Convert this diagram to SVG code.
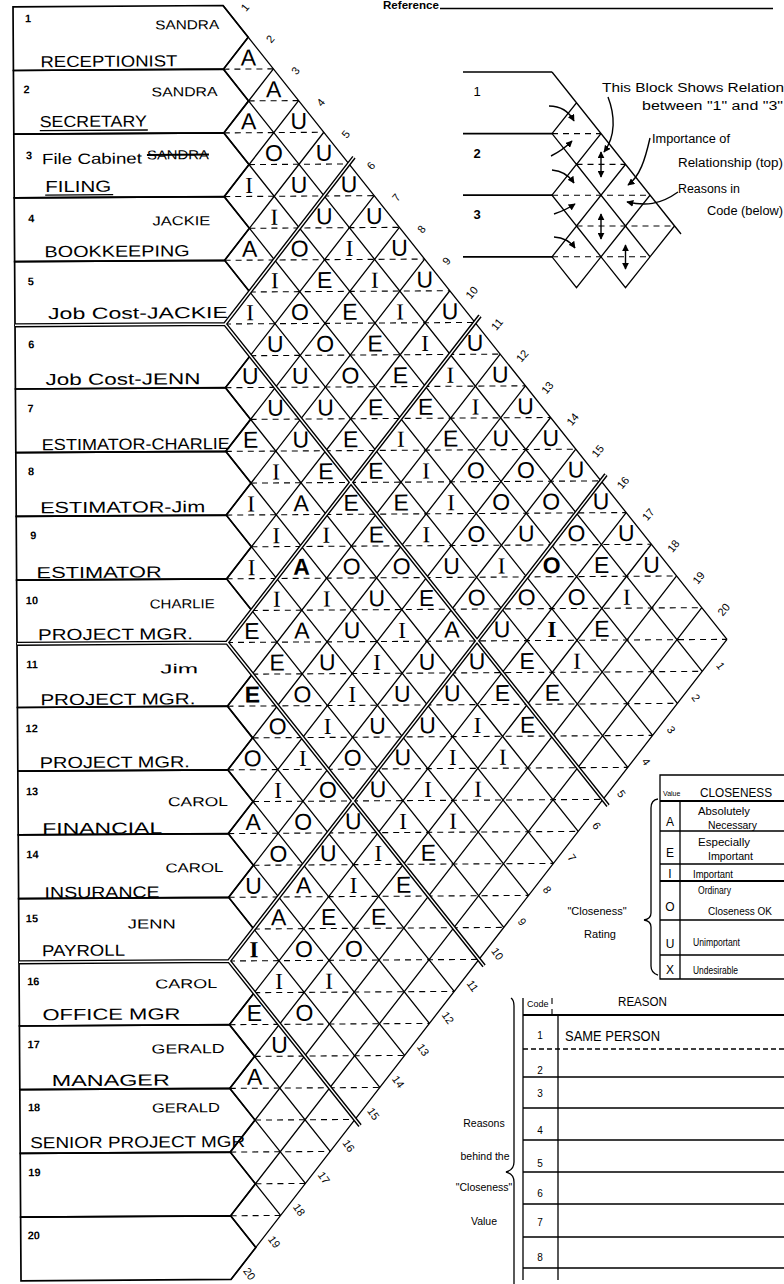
<svg xmlns="http://www.w3.org/2000/svg" width="784" height="1284" viewBox="0 0 784 1284">
<style>
.ln{fill:none;stroke:#000;stroke-width:1.3}
.row{fill:none;stroke:#000;stroke-width:1.7}
.dash{fill:none;stroke:#000;stroke-width:1.1;stroke-dasharray:6 5}
.dbl{fill:none;stroke:#000;stroke-width:4.2}
.dblw{fill:none;stroke:#fff;stroke-width:1.4}
.hw{font-family:"Liberation Sans",Arial,sans-serif;fill:#000}
.nm{font-size:13px}
.tt{font-size:16px}
.num{font-size:11px;font-weight:bold}
.cell{font-family:"Liberation Sans",Arial,sans-serif;font-size:23px;text-anchor:middle;fill:#000}
.ci{font-family:"Liberation Serif",serif}
.el{font-family:"Liberation Sans",Arial,sans-serif;font-size:11px;text-anchor:middle;fill:#000}
.ty{font-family:"Liberation Sans",Arial,sans-serif;fill:#000}
.arr{fill:none;stroke:#000;stroke-width:1.4;marker-end:url(#ah)}
.dar{fill:none;stroke:#000;stroke-width:1.4;marker-start:url(#ah);marker-end:url(#ah)}
</style>
<defs>
<marker id="ah" viewBox="0 0 10 10" refX="9" refY="5" markerWidth="5" markerHeight="5" orient="auto-start-reverse"><path d="M0,0L10,5L0,10Z" fill="#000"/></marker>
</defs>
<rect width="784" height="1284" fill="#fff"/>

<g id="reference">
<text class="ty" x="383" y="9" font-size="11" font-weight="bold" textLength="56" lengthAdjust="spacingAndGlyphs">Reference</text>
<path d="M440,8.5H773" stroke="#000" stroke-width="1.5"/>
</g>

<g id="chart" transform="rotate(-0.36 223 4)">
<g id="row-1"><path class="row" d="M13,5.5H223L248,37.35L223,69.2H13Z"/>
<text class="hw num" x="25" y="21">1</text>
<text class="hw nm" x="155" y="29" textLength="64" lengthAdjust="spacingAndGlyphs">SANDRA</text>
<text class="hw tt" x="40" y="66" textLength="137" lengthAdjust="spacingAndGlyphs">RECEPTIONIST</text></g>
<g id="row-2"><path class="row" d="M13,69.2H223L248,101.05L223,132.9H13Z"/>
<text class="hw num" x="23" y="92">2</text>
<text class="hw nm" x="151" y="96" textLength="66" lengthAdjust="spacingAndGlyphs">SANDRA</text>
<text class="hw tt" x="39" y="126" textLength="107" lengthAdjust="spacingAndGlyphs">SECRETARY</text>
<path d="M39,129.5H147" stroke="#000" stroke-width="1.3"/></g>
<g id="row-3"><path class="row" d="M13,132.9H223L248,164.75L223,196.6H13Z"/>
<text class="hw num" x="25" y="158">3</text>
<text class="hw" x="41" y="163" font-size="15" textLength="100" lengthAdjust="spacingAndGlyphs">File Cabinet</text>
<text class="hw nm" x="146" y="159" textLength="62" lengthAdjust="spacingAndGlyphs">SANDRA</text>
<path d="M146,154.5H208" stroke="#000" stroke-width="2"/>
<text class="hw tt" x="44" y="191" textLength="66" lengthAdjust="spacingAndGlyphs">FILING</text>
<path d="M44,194H112" stroke="#000" stroke-width="1.3"/></g>
<g id="row-4"><path class="row" d="M13,196.6H223L248,228.45L223,260.3H13Z"/>
<text class="hw num" x="27" y="221">4</text>
<text class="hw nm" x="151" y="225" textLength="58" lengthAdjust="spacingAndGlyphs">JACKIE</text>
<text class="hw tt" x="43" y="256" textLength="145" lengthAdjust="spacingAndGlyphs">BOOKKEEPING</text></g>
<g id="row-5"><path class="row" d="M13,260.3H223L248,292.15L223,324H13Z"/>
<text class="hw num" x="26" y="284">5</text>
<text class="hw tt" x="46" y="318" textLength="180" lengthAdjust="spacingAndGlyphs">Job Cost-JACKIE</text></g>
<g id="row-6"><path class="row" d="M13,324H223L248,355.85L223,387.7H13Z"/>
<text class="hw num" x="26" y="347">6</text>
<text class="hw tt" x="43" y="384" textLength="155" lengthAdjust="spacingAndGlyphs">Job Cost-JENN</text></g>
<g id="row-7"><path class="row" d="M13,387.7H223L248,419.55L223,451.4H13Z"/>
<text class="hw num" x="25" y="411">7</text>
<text class="hw tt" x="39" y="449" textLength="188" lengthAdjust="spacingAndGlyphs">ESTIMATOR-CHARLIE</text></g>
<g id="row-8"><path class="row" d="M13,451.4H223L248,483.25L223,515.1H13Z"/>
<text class="hw num" x="25" y="474">8</text>
<text class="hw tt" x="37" y="512" textLength="165" lengthAdjust="spacingAndGlyphs">ESTIMATOR-Jim</text></g>
<g id="row-9"><path class="row" d="M13,515.1H223L248,546.95L223,578.8H13Z"/>
<text class="hw num" x="27" y="538">9</text>
<text class="hw tt" x="33" y="577" textLength="125" lengthAdjust="spacingAndGlyphs">ESTIMATOR</text></g>
<g id="row-10"><path class="row" d="M13,578.8H223L248,610.65L223,642.5H13Z"/>
<text class="hw num" x="22" y="603">10</text>
<text class="hw nm" x="146" y="608" textLength="65" lengthAdjust="spacingAndGlyphs">CHARLIE</text>
<text class="hw tt" x="34" y="639" textLength="155" lengthAdjust="spacingAndGlyphs">PROJECT MGR.</text></g>
<g id="row-11"><path class="row" d="M13,642.5H223L248,674.35L223,706.2H13Z"/>
<text class="hw num" x="22" y="667">11</text>
<text class="hw nm" x="156" y="673" textLength="38" lengthAdjust="spacingAndGlyphs">Jim</text>
<text class="hw tt" x="36" y="704" textLength="155" lengthAdjust="spacingAndGlyphs">PROJECT MGR.</text></g>
<g id="row-12"><path class="row" d="M13,706.2H223L248,738.05L223,769.9H13Z"/>
<text class="hw num" x="21" y="731">12</text>
<text class="hw tt" x="35" y="767" textLength="150" lengthAdjust="spacingAndGlyphs">PROJECT MGR.</text></g>
<g id="row-13"><path class="row" d="M13,769.9H223L248,801.75L223,833.6H13Z"/>
<text class="hw num" x="21" y="794">13</text>
<text class="hw nm" x="163" y="806" textLength="60" lengthAdjust="spacingAndGlyphs">CAROL</text>
<text class="hw tt" x="37" y="833" textLength="120" lengthAdjust="spacingAndGlyphs">FINANCIAL</text></g>
<g id="row-14"><path class="row" d="M13,833.6H223L248,865.45L223,897.3H13Z"/>
<text class="hw num" x="21" y="857">14</text>
<text class="hw nm" x="160" y="872" textLength="58" lengthAdjust="spacingAndGlyphs">CAROL</text>
<text class="hw tt" x="39" y="897" textLength="115" lengthAdjust="spacingAndGlyphs">INSURANCE</text></g>
<g id="row-15"><path class="row" d="M13,897.3H223L248,929.15L223,961H13Z"/>
<text class="hw num" x="20" y="921">15</text>
<text class="hw nm" x="122" y="928" textLength="48" lengthAdjust="spacingAndGlyphs">JENN</text>
<text class="hw tt" x="36" y="955" textLength="83" lengthAdjust="spacingAndGlyphs">PAYROLL</text></g>
<g id="row-16"><path class="row" d="M13,961H223L248,992.85L223,1024.7H13Z"/>
<text class="hw num" x="21" y="984">16</text>
<text class="hw nm" x="149" y="988" textLength="62" lengthAdjust="spacingAndGlyphs">CAROL</text>
<text class="hw tt" x="36" y="1019" textLength="138" lengthAdjust="spacingAndGlyphs">OFFICE MGR</text></g>
<g id="row-17"><path class="row" d="M13,1024.7H223L248,1056.55L223,1088.4H13Z"/>
<text class="hw num" x="21" y="1047">17</text>
<text class="hw nm" x="145" y="1053" textLength="73" lengthAdjust="spacingAndGlyphs">GERALD</text>
<text class="hw tt" x="45" y="1085" textLength="118" lengthAdjust="spacingAndGlyphs">MANAGER</text></g>
<g id="row-18"><path class="row" d="M13,1088.4H223L248,1120.25L223,1152.1H13Z"/>
<text class="hw num" x="21" y="1110">18</text>
<text class="hw nm" x="145" y="1112" textLength="68" lengthAdjust="spacingAndGlyphs">GERALD</text>
<text class="hw tt" x="23" y="1147" textLength="215" lengthAdjust="spacingAndGlyphs">SENIOR PROJECT MGR</text></g>
<g id="row-19"><path class="row" d="M13,1152.1H223L248,1183.95L223,1215.8H13Z"/>
<text class="hw num" x="21" y="1175">19</text></g>
<g id="row-20"><path class="row" d="M13,1215.8H223L248,1247.65L223,1279.5H13Z"/>
<text class="hw num" x="20" y="1238">20</text></g>

<g id="matrix-grid">
<path class="ln" d="M223,5.5L723,642.5M223,69.2L698,674.35M223,132.9L673,706.2M223,196.6L648,738.05M223,260.3L623,769.9M223,324L598,801.75M223,387.7L573,833.6M223,451.4L548,865.45M223,515.1L523,897.3M223,578.8L498,929.15M223,642.5L473,961M223,706.2L448,992.85M223,769.9L423,1024.7M223,833.6L398,1056.55M223,897.3L373,1088.4M223,961L348,1120.25M223,1024.7L323,1152.1M223,1088.4L298,1183.95M223,1152.1L273,1215.8M223,1215.8L248,1247.65"/>
<path class="ln" d="M223,69.2L248,37.35M223,132.9L273,69.2M223,196.6L298,101.05M223,260.3L323,132.9M223,324L348,164.75M223,387.7L373,196.6M223,451.4L398,228.45M223,515.1L423,260.3M223,578.8L448,292.15M223,642.5L473,324M223,706.2L498,355.85M223,769.9L523,387.7M223,833.6L548,419.55M223,897.3L573,451.4M223,961L598,483.25M223,1024.7L623,515.1M223,1088.4L648,546.95M223,1152.1L673,578.8M223,1215.8L698,610.65M223,1279.5L723,642.5"/>
<path class="dash" d="M223,69.2H273M248,101.05H298M223,132.9H323M248,164.75H348M223,196.6H373M248,228.45H398M223,260.3H423M248,292.15H448M223,324H473M248,355.85H498M223,387.7H523M248,419.55H548M223,451.4H573M248,483.25H598M223,515.1H623M248,546.95H648M223,578.8H673M248,610.65H698M223,642.5H723M248,674.35H698M223,706.2H673M248,738.05H648M223,769.9H623M248,801.75H598M223,833.6H573M248,865.45H548M223,897.3H523M248,929.15H498M223,961H473M248,992.85H448M223,1024.7H423M248,1056.55H398M223,1088.4H373M248,1120.25H348M223,1152.1H323M248,1183.95H298M223,1215.8H273"/>
<path class="dbl" d="M13,324H223M13,642.5H223M13,961H223M223,324L353,158M223,324L603,808M223,642.5L478,317.5M223,642.5L478,967.5M223,961L603,477M223,961L353,1126.5"/>
<path class="dblw" d="M13,324H223M13,642.5H223M13,961H223M223,324L353,158M223,324L603,808M223,642.5L478,317.5M223,642.5L478,967.5M223,961L603,477M223,961L353,1126.5"/>
</g>

<g id="ratings" class="cell">
<text x="248" y="65.7">A</text>
<text x="273" y="97.55">A</text>
<text x="248" y="129.4">A</text><text x="298" y="129.4">U</text>
<text x="273" y="161.25">O</text><text x="323" y="161.25">U</text>
<text class="ci" x="248" y="193.1">I</text><text x="298" y="193.1">U</text><text x="348" y="193.1">U</text>
<text class="ci" x="273" y="224.95">I</text><text x="323" y="224.95">U</text><text x="373" y="224.95">U</text>
<text x="248" y="256.8">A</text><text x="298" y="256.8">O</text><text class="ci" x="348" y="256.8">I</text><text x="398" y="256.8">U</text>
<text class="ci" x="273" y="288.65">I</text><text x="323" y="288.65">E</text><text class="ci" x="373" y="288.65">I</text><text x="423" y="288.65">U</text>
<text class="ci" x="248" y="320.5">I</text><text x="298" y="320.5">O</text><text x="348" y="320.5">E</text><text class="ci" x="398" y="320.5">I</text><text x="448" y="320.5">U</text>
<text x="273" y="352.35">U</text><text x="323" y="352.35">O</text><text x="373" y="352.35">E</text><text class="ci" x="423" y="352.35">I</text><text x="473" y="352.35">U</text>
<text x="248" y="384.2">U</text><text x="298" y="384.2">U</text><text x="348" y="384.2">O</text><text x="398" y="384.2">E</text><text class="ci" x="448" y="384.2">I</text><text x="498" y="384.2">U</text>
<text x="273" y="416.05">U</text><text x="323" y="416.05">U</text><text x="373" y="416.05">E</text><text x="423" y="416.05">E</text><text class="ci" x="473" y="416.05">I</text><text x="523" y="416.05">U</text>
<text x="248" y="447.9">E</text><text x="298" y="447.9">U</text><text x="348" y="447.9">E</text><text class="ci" x="398" y="447.9">I</text><text x="448" y="447.9">E</text><text x="498" y="447.9">U</text><text x="548" y="447.9">U</text>
<text class="ci" x="273" y="479.75">I</text><text x="323" y="479.75">E</text><text x="373" y="479.75">E</text><text class="ci" x="423" y="479.75">I</text><text x="473" y="479.75">O</text><text x="523" y="479.75">O</text><text x="573" y="479.75">U</text>
<text class="ci" x="248" y="511.6">I</text><text x="298" y="511.6">A</text><text x="348" y="511.6">E</text><text x="398" y="511.6">E</text><text class="ci" x="448" y="511.6">I</text><text x="498" y="511.6">O</text><text x="548" y="511.6">O</text><text x="598" y="511.6">U</text>
<text class="ci" x="273" y="543.45">I</text><text class="ci" x="323" y="543.45">I</text><text x="373" y="543.45">E</text><text class="ci" x="423" y="543.45">I</text><text x="473" y="543.45">O</text><text x="523" y="543.45">U</text><text x="573" y="543.45">O</text><text x="623" y="543.45">U</text>
<text class="ci" x="248" y="575.3">I</text><text x="298" y="575.3" font-weight="bold">A</text><text x="348" y="575.3">O</text><text x="398" y="575.3">O</text><text x="448" y="575.3">U</text><text class="ci" x="498" y="575.3">I</text><text x="548" y="575.3" font-weight="bold">O</text><text x="598" y="575.3">E</text><text x="648" y="575.3">U</text>
<text class="ci" x="273" y="607.15">I</text><text class="ci" x="323" y="607.15">I</text><text x="373" y="607.15">U</text><text x="423" y="607.15">E</text><text x="473" y="607.15">O</text><text x="523" y="607.15">O</text><text x="573" y="607.15">O</text><text class="ci" x="623" y="607.15">I</text>
<text x="248" y="639">E</text><text x="298" y="639">A</text><text x="348" y="639">U</text><text class="ci" x="398" y="639">I</text><text x="448" y="639">A</text><text x="498" y="639">U</text><text class="ci" x="548" y="639" font-weight="bold">I</text><text x="598" y="639">E</text>
<text x="273" y="670.85">E</text><text x="323" y="670.85">U</text><text class="ci" x="373" y="670.85">I</text><text x="423" y="670.85">U</text><text x="473" y="670.85">U</text><text x="523" y="670.85">E</text><text class="ci" x="573" y="670.85">I</text>
<text x="248" y="702.7" font-weight="bold">E</text><text x="298" y="702.7">O</text><text class="ci" x="348" y="702.7">I</text><text x="398" y="702.7">U</text><text x="448" y="702.7">U</text><text x="498" y="702.7">E</text><text x="548" y="702.7">E</text>
<text x="273" y="734.55">O</text><text class="ci" x="323" y="734.55">I</text><text x="373" y="734.55">U</text><text x="423" y="734.55">U</text><text class="ci" x="473" y="734.55">I</text><text x="523" y="734.55">E</text>
<text x="248" y="766.4">O</text><text class="ci" x="298" y="766.4">I</text><text x="348" y="766.4">O</text><text x="398" y="766.4">U</text><text class="ci" x="448" y="766.4">I</text><text class="ci" x="498" y="766.4">I</text>
<text class="ci" x="273" y="798.25">I</text><text x="323" y="798.25">O</text><text x="373" y="798.25">U</text><text class="ci" x="423" y="798.25">I</text><text class="ci" x="473" y="798.25">I</text>
<text x="248" y="830.1">A</text><text x="298" y="830.1">O</text><text x="348" y="830.1">U</text><text class="ci" x="398" y="830.1">I</text><text class="ci" x="448" y="830.1">I</text>
<text x="273" y="861.95">O</text><text x="323" y="861.95">U</text><text class="ci" x="373" y="861.95">I</text><text x="423" y="861.95">E</text>
<text x="248" y="893.8">U</text><text x="298" y="893.8">A</text><text class="ci" x="348" y="893.8">I</text><text x="398" y="893.8">E</text>
<text x="273" y="925.65">A</text><text x="323" y="925.65">E</text><text x="373" y="925.65">E</text>
<text class="ci" x="248" y="957.5" font-weight="bold">I</text><text x="298" y="957.5">O</text><text x="348" y="957.5">O</text>
<text class="ci" x="273" y="989.35">I</text><text class="ci" x="323" y="989.35">I</text>
<text x="248" y="1021.2">E</text><text x="298" y="1021.2">O</text>
<text x="273" y="1053.05">U</text>
<text x="248" y="1084.9">A</text>
</g>

<g id="edge-labels" class="el">
<text x="245" y="7.5" dy=".35em" transform="rotate(-50 245 7.5)">1</text>
<text x="270" y="39.3" dy=".35em" transform="rotate(-50 270 39.3)">2</text>
<text x="295" y="71.2" dy=".35em" transform="rotate(-50 295 71.2)">3</text>
<text x="320" y="103" dy=".35em" transform="rotate(-50 320 103)">4</text>
<text x="345" y="134.9" dy=".35em" transform="rotate(-50 345 134.9)">5</text>
<text x="370" y="166.7" dy=".35em" transform="rotate(-50 370 166.7)">6</text>
<text x="395" y="198.6" dy=".35em" transform="rotate(-50 395 198.6)">7</text>
<text x="420" y="230.4" dy=".35em" transform="rotate(-50 420 230.4)">8</text>
<text x="445" y="262.3" dy=".35em" transform="rotate(-50 445 262.3)">9</text>
<text x="470" y="294.1" dy=".35em" transform="rotate(-50 470 294.1)">10</text>
<text x="495" y="326" dy=".35em" transform="rotate(-50 495 326)">11</text>
<text x="520" y="357.8" dy=".35em" transform="rotate(-50 520 357.8)">12</text>
<text x="545" y="389.7" dy=".35em" transform="rotate(-50 545 389.7)">13</text>
<text x="570" y="421.5" dy=".35em" transform="rotate(-50 570 421.5)">14</text>
<text x="595" y="453.4" dy=".35em" transform="rotate(-50 595 453.4)">15</text>
<text x="620" y="485.2" dy=".35em" transform="rotate(-50 620 485.2)">16</text>
<text x="645" y="517.1" dy=".35em" transform="rotate(-50 645 517.1)">17</text>
<text x="670" y="548.9" dy=".35em" transform="rotate(-50 670 548.9)">18</text>
<text x="695" y="580.8" dy=".35em" transform="rotate(-50 695 580.8)">19</text>
<text x="720" y="612.6" dy=".35em" transform="rotate(-50 720 612.6)">20</text>
<text x="716.5" y="668.9" dy=".35em" transform="rotate(55 716.5 668.9)">1</text>
<text x="691.5" y="700.7" dy=".35em" transform="rotate(55 691.5 700.7)">2</text>
<text x="666.5" y="732.6" dy=".35em" transform="rotate(55 666.5 732.6)">3</text>
<text x="641.5" y="764.4" dy=".35em" transform="rotate(55 641.5 764.4)">4</text>
<text x="616.5" y="796.3" dy=".35em" transform="rotate(55 616.5 796.3)">5</text>
<text x="591.5" y="828.1" dy=".35em" transform="rotate(55 591.5 828.1)">6</text>
<text x="566.5" y="860" dy=".35em" transform="rotate(55 566.5 860)">7</text>
<text x="541.5" y="891.8" dy=".35em" transform="rotate(55 541.5 891.8)">8</text>
<text x="516.5" y="923.7" dy=".35em" transform="rotate(55 516.5 923.7)">9</text>
<text x="491.5" y="955.5" dy=".35em" transform="rotate(55 491.5 955.5)">10</text>
<text x="466.5" y="987.4" dy=".35em" transform="rotate(55 466.5 987.4)">11</text>
<text x="441.5" y="1019.2" dy=".35em" transform="rotate(55 441.5 1019.2)">12</text>
<text x="416.5" y="1051.1" dy=".35em" transform="rotate(55 416.5 1051.1)">13</text>
<text x="391.5" y="1082.9" dy=".35em" transform="rotate(55 391.5 1082.9)">14</text>
<text x="366.5" y="1114.8" dy=".35em" transform="rotate(55 366.5 1114.8)">15</text>
<text x="341.5" y="1146.6" dy=".35em" transform="rotate(55 341.5 1146.6)">16</text>
<text x="316.5" y="1178.5" dy=".35em" transform="rotate(55 316.5 1178.5)">17</text>
<text x="291.5" y="1210.3" dy=".35em" transform="rotate(55 291.5 1210.3)">18</text>
<text x="266.5" y="1242.2" dy=".35em" transform="rotate(55 266.5 1242.2)">19</text>
<text x="241.5" y="1274" dy=".35em" transform="rotate(55 241.5 1274)">20</text>
</g>
</g>

<g id="example">
<path class="row" d="M463,72H552M463,133.6H552M463,195.2H552M463,256.8H552"/>
<text class="ty" x="477" y="96" font-size="13" text-anchor="middle">1</text>
<text class="ty" x="477" y="158" font-size="13" text-anchor="middle" font-weight="bold">2</text>
<text class="ty" x="477" y="219" font-size="13" text-anchor="middle" font-weight="bold">3</text>
<path class="ln" d="M552,72L681,234M552,133.6L576.5,102.8L601,133.6L576.5,164.4ZM576.5,164.4L601,133.6L625.5,164.4L601,195.2ZM601,195.2L625.5,164.4L650,195.2L625.5,226ZM625.5,226L650,195.2L674.5,226L650,256.8ZM552,195.2L576.5,164.4L601,195.2L576.5,226ZM576.5,226L601,195.2L625.5,226L601,256.8ZM601,256.8L625.5,226L650,256.8L625.5,287.6ZM552,256.8L576.5,226L601,256.8L576.5,287.6Z"/>
<path class="dash" d="M552,133.6H601M576.5,164.4H625.5M552,195.2H650M576.5,226H674.5M552,256.8H650"/>
<path class="arr" d="M549,106Q566,106 574,121"/>
<path class="arr" d="M551,156Q563,150 572,141"/>
<path class="arr" d="M552,170Q566,171 574,183"/>
<path class="arr" d="M554,214Q566,210 575,204"/>
<path class="arr" d="M554,237Q568,238 575,248"/>
<path class="dar" d="M601,152V177"/>
<path class="dar" d="M601,214V239"/>
<path class="dar" d="M625.5,245V269"/>
<path class="arr" d="M608,97C615,115 616,136 604,152"/>
<path class="arr" d="M650,138C645,160 640,176 628,185"/>
<path class="arr" d="M678,192C660,205 645,206 627,202"/>
<text class="ty" x="602" y="92" font-size="12" textLength="182" lengthAdjust="spacingAndGlyphs">This  Block  Shows  Relation</text>
<text class="ty" x="642" y="110" font-size="12" textLength="141" lengthAdjust="spacingAndGlyphs">between "1" and "3"</text>
<text class="ty" x="652" y="143" font-size="12" textLength="78" lengthAdjust="spacingAndGlyphs">Importance of</text>
<text class="ty" x="678" y="167" font-size="12" textLength="105" lengthAdjust="spacingAndGlyphs">Relationship (top)</text>
<text class="ty" x="678" y="193" font-size="12" textLength="62" lengthAdjust="spacingAndGlyphs">Reasons in</text>
<text class="ty" x="707" y="215" font-size="12" textLength="76" lengthAdjust="spacingAndGlyphs">Code (below)</text>
</g>

<g id="legend">
<path class="ln" d="M784,775H660V979H784M660,831H784M660,864H784M660,920H784M660,955H784M680,801V979"/>
<path d="M660,801H784M660,881H784" stroke="#000" stroke-width="2"/>
<text class="ty" x="663" y="796" font-size="7">Value</text>
<text class="ty" x="700" y="797" font-size="12" textLength="72" lengthAdjust="spacingAndGlyphs">CLOSENESS</text>
<g class="ty" font-size="12" text-anchor="middle">
<text x="670" y="826">A</text><text x="670" y="857">E</text><text x="670" y="878">I</text><text x="670" y="911">O</text><text x="670" y="948">U</text><text x="670" y="974">X</text>
</g>
<g class="ty" font-size="10">
<text x="698" y="815" textLength="52" lengthAdjust="spacingAndGlyphs">Absolutely</text>
<text x="708" y="829" textLength="49" lengthAdjust="spacingAndGlyphs">Necessary</text>
<text x="698" y="846" textLength="52" lengthAdjust="spacingAndGlyphs">Especially</text>
<text x="708" y="860" textLength="45" lengthAdjust="spacingAndGlyphs">Important</text>
<text x="693" y="878" textLength="40" lengthAdjust="spacingAndGlyphs">Important</text>
<text x="698" y="894" textLength="33" lengthAdjust="spacingAndGlyphs">Ordinary</text>
<text x="708" y="915" textLength="64" lengthAdjust="spacingAndGlyphs">Closeness OK</text>
<text x="693" y="946" font-size="11" textLength="47" lengthAdjust="spacingAndGlyphs">Unimportant</text>
<text x="693" y="974" font-size="11" textLength="45" lengthAdjust="spacingAndGlyphs">Undesirable</text>
</g>
<path class="ln" d="M658,799Q651,800 651,808L651,913Q651,919 644,920Q651,921 651,927L651,966Q651,973 658,975"/>
<text class="ty" x="597" y="915" font-size="11" text-anchor="middle">"Closeness"</text>
<text class="ty" x="600" y="938" font-size="11" text-anchor="middle">Rating</text>
</g>

<g id="reasons">
<path class="ln" d="M523,998V1280M558,1014V1280M523,1077H784M523,1108H784M523,1140H784M523,1172H784M523,1204H784M523,1237H784M523,1268H784"/>
<path class="dash" d="M552,998V1014"/>
<path d="M523,1015H784" stroke="#000" stroke-width="2"/>
<path d="M523,1049H784" stroke="#000" stroke-width="1.3" stroke-dasharray="5 3"/>
<text class="ty" x="527" y="1007" font-size="9">Code</text>
<text class="ty" x="618" y="1006" font-size="12" textLength="49" lengthAdjust="spacingAndGlyphs">REASON</text>
<g class="ty" font-size="10" text-anchor="middle">
<text x="540" y="1039">1</text><text x="540" y="1074">2</text><text x="540" y="1097">3</text><text x="540" y="1134">4</text><text x="540" y="1167">5</text><text x="540" y="1197">6</text><text x="540" y="1226">7</text><text x="540" y="1261">8</text>
</g>
<text class="hw" x="565" y="1041" font-size="15" textLength="95" lengthAdjust="spacingAndGlyphs">SAME PERSON</text>
<path class="ln" d="M511,998Q514,1000 514,1006L514,1162Q514,1170 506,1172Q514,1174 514,1182L514,1284"/>
<g class="ty" font-size="10.5" text-anchor="middle">
<text x="484" y="1127">Reasons</text>
<text x="485" y="1160">behind the</text>
<text x="484" y="1191">"Closeness"</text>
<text x="484" y="1225">Value</text>
</g>
</g>
</svg>
